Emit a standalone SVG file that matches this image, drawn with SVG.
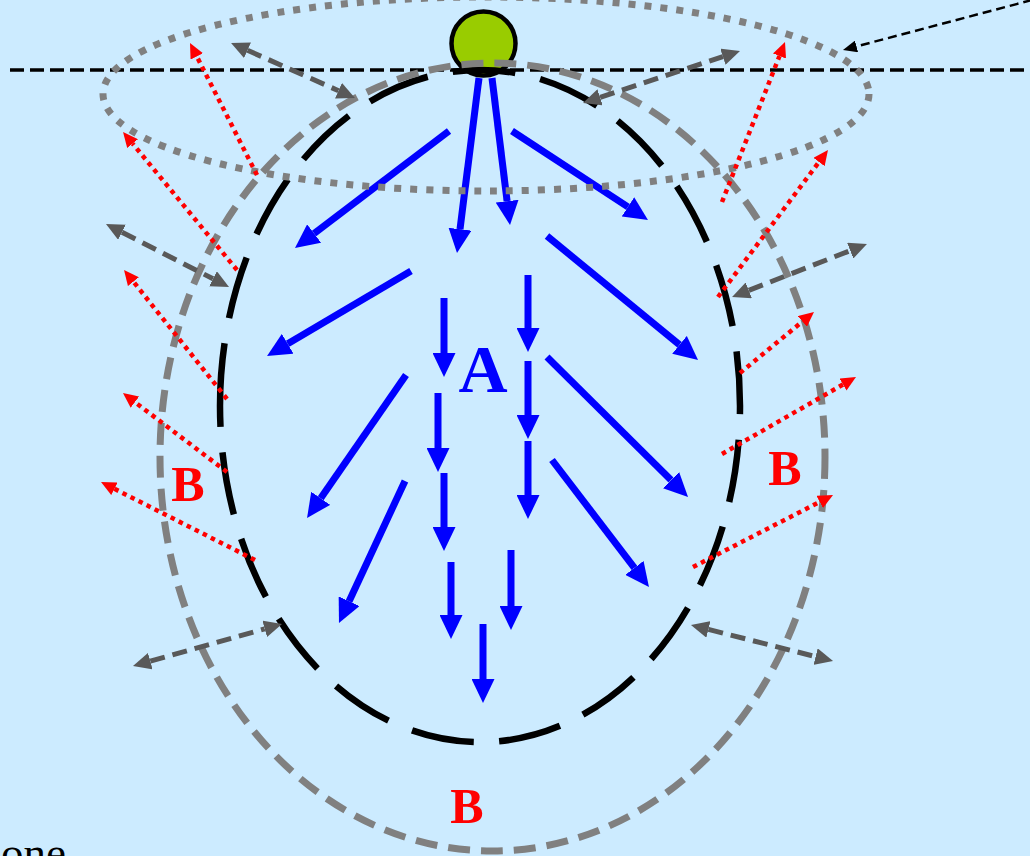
<svg xmlns="http://www.w3.org/2000/svg" width="1030" height="856" viewBox="0 0 1030 856">
<style>
.blue{stroke:#0000FF;stroke-width:7;fill:none;marker-end:url(#hb)}
.grey{stroke:#595959;stroke-width:5;stroke-dasharray:15 8;fill:none;marker-start:url(#hg);marker-end:url(#hg)}
.red{stroke:#FF0000;stroke-width:4.5;stroke-dasharray:4.5 4.5;fill:none;marker-end:url(#hr)}
.lbl{font-family:"Liberation Serif","Times New Roman",serif;font-weight:bold;text-anchor:middle}
</style>
<defs>
<marker id="hb" markerUnits="userSpaceOnUse" markerWidth="24" markerHeight="23" refX="0" refY="11.5" orient="auto"><path d="M0,0 L24,11.5 L0,23 z" fill="#0000FF"/></marker>
<marker id="hg" markerUnits="userSpaceOnUse" markerWidth="18" markerHeight="17" refX="0" refY="8.5" orient="auto-start-reverse"><path d="M0,0 L18,8.5 L0,17 z" fill="#595959"/></marker>
<marker id="hr" markerUnits="userSpaceOnUse" markerWidth="15" markerHeight="14" refX="0" refY="7" orient="auto"><path d="M0,0 L15,7 L0,14 z" fill="#FF0000"/></marker>
<marker id="hk" markerUnits="userSpaceOnUse" markerWidth="14" markerHeight="12" refX="0" refY="6" orient="auto"><path d="M0,0 L14,6 L0,12 z" fill="#000000"/></marker>
</defs>
<rect width="1030" height="856" fill="#CCEBFF"/>
<line id="surface" x1="10" y1="70" x2="1030" y2="70" stroke="#000" stroke-width="3.5" stroke-dasharray="14 6"/>
<g id="connectors">
<g id="blue-arrows">
<line class="blue" x1="449" y1="131" x2="314.1" y2="233.5"/>
<line class="blue" x1="479" y1="78" x2="460" y2="229.2"/>
<line class="blue" x1="492" y1="78" x2="507.1" y2="201.2"/>
<line class="blue" x1="512" y1="131" x2="627.9" y2="206.9"/>
<line class="blue" x1="411" y1="271" x2="287.7" y2="343.8"/>
<line class="blue" x1="444" y1="298" x2="444" y2="353"/>
<line class="blue" x1="528" y1="275" x2="528" y2="328"/>
<line class="blue" x1="547" y1="236" x2="679.5" y2="344.8"/>
<line class="blue" x1="406" y1="375" x2="320.7" y2="498.3"/>
<line class="blue" x1="438" y1="393" x2="438" y2="448"/>
<line class="blue" x1="528" y1="361" x2="528" y2="415"/>
<line class="blue" x1="528" y1="441" x2="528" y2="495"/>
<line class="blue" x1="547" y1="357" x2="671" y2="480.1"/>
<line class="blue" x1="405" y1="481" x2="349.1" y2="601.2"/>
<line class="blue" x1="444" y1="473" x2="444" y2="527"/>
<line class="blue" x1="451" y1="562" x2="451" y2="615"/>
<line class="blue" x1="511" y1="550" x2="511" y2="606"/>
<line class="blue" x1="483" y1="624" x2="483" y2="679"/>
<line class="blue" x1="552" y1="460" x2="634.4" y2="567.9"/>
</g>
</g>
<g id="source">
<circle cx="483.5" cy="43.5" r="32" fill="#99CC00" stroke="#000" stroke-width="4.5"/>
</g>
<g id="zone-a">
<path d="M220,406 A260,336 0 1,1 740,406 A260,336 0 1,1 220,406" pathLength="1880" fill="none" stroke="#000" stroke-width="6.5" stroke-dasharray="63 25.52"/>
</g>
<g id="zone-b">
<ellipse cx="492.5" cy="457" rx="332.5" ry="394" fill="none" stroke="#808080" stroke-width="7" stroke-dasharray="22 11"/>
</g>
<g id="surface-zone">
<ellipse cx="486" cy="94" rx="383" ry="97" fill="none" stroke="#808080" stroke-width="7" stroke-dasharray="7 9"/>
</g>
<g id="connectors2">
<g id="grey-arrows">
<line class="grey" x1="247.5" y1="50.3" x2="338.5" y2="90.7"/>
<line class="grey" x1="600.1" y1="97.3" x2="722.9" y2="56.7"/>
<line class="grey" x1="122" y1="232.2" x2="213" y2="278.8"/>
<line class="grey" x1="748.8" y1="290.4" x2="850.2" y2="250.6"/>
<line class="grey" x1="150.3" y1="661.1" x2="264.7" y2="628.9"/>
<line class="grey" x1="708.4" y1="629.4" x2="815.6" y2="656.6"/>
</g>
<g id="red-arrows">
<line class="red" x1="257" y1="175" x2="196.8" y2="56.4"/>
<line class="red" x1="237" y1="270" x2="132.6" y2="143.6"/>
<line class="red" x1="227" y1="399" x2="133.4" y2="281.7"/>
<line class="red" x1="227" y1="472" x2="134.9" y2="402.1"/>
<line class="red" x1="255" y1="560" x2="114.4" y2="488.8"/>
<line class="red" x1="722" y1="202" x2="779.5" y2="56"/>
<line class="red" x1="718" y1="297" x2="819" y2="162"/>
<line class="red" x1="740" y1="373" x2="802.4" y2="321.5"/>
<line class="red" x1="722" y1="454" x2="843" y2="384.5"/>
<line class="red" x1="693" y1="567" x2="819.7" y2="501.9"/>
</g>
<line id="pointer" x1="1032" y1="0" x2="856.5" y2="46.4" stroke="#000" stroke-width="2.5" stroke-dasharray="9 5" marker-end="url(#hk)"/>
</g>
<g id="labels">
<text class="lbl" x="483" y="392" font-size="68" fill="#0000FF">A</text>
<text class="lbl" x="188" y="501" font-size="50" fill="#FF0000">B</text>
<text class="lbl" x="785" y="485" font-size="50" fill="#FF0000">B</text>
<text class="lbl" x="467" y="823" font-size="50" fill="#FF0000">B</text>
<text x="1" y="868" font-family="'Liberation Serif','Times New Roman',serif" font-size="45" fill="#000">one</text>
</g>
</svg>
